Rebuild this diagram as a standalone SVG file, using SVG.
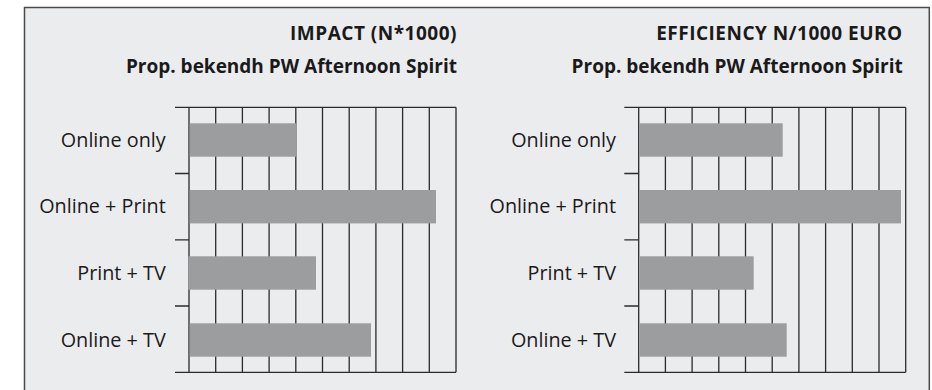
<svg xmlns="http://www.w3.org/2000/svg" width="932" height="390" viewBox="0 0 932 390">
  <style>
    .panel { fill: #EBECEE; stroke: #4A4A4A; stroke-width: 1.5; }
    .title { font-family: "Open Sans", "Liberation Sans", sans-serif; font-weight: bold; font-size: 19px; fill: #1A1A1A; text-anchor: end; }
    .caps { letter-spacing: 0.5px; }
    .label { font-family: "Open Sans", "Liberation Sans", sans-serif; font-size: 19.8px; fill: #1A1A1A; text-anchor: end; }
    .grid { stroke: #2B2B2B; stroke-width: 1.3; fill: none; }
    .bar { fill: #9C9D9F; }
  </style>

  <!-- background panel (open at the bottom) -->
  <path class="panel" d="M24.5 392 V7.5 H929.3 V392" />

  <!-- left chart: impact -->
  <g id="impact-chart">
    <text class="title caps" x="457" y="40">IMPACT (N*1000)</text>
    <text class="title" x="457" y="72.7">Prop. bekendh PW Afternoon Spirit</text>

    <g id="impact-grid" class="grid">
      <path d="M175 107.3 H456 M175 372.3 H456" />
      <path d="M189 107.3 V372.3 M215.7 107.3 V372.3 M242.4 107.3 V372.3 M269.1 107.3 V372.3 M295.8 107.3 V372.3 M322.5 107.3 V372.3 M349.2 107.3 V372.3 M375.9 107.3 V372.3 M402.6 107.3 V372.3 M429.3 107.3 V372.3 M456 107.3 V372.3" />
      <path d="M175 173.5 H189 M175 239.8 H189 M175 306 H189" />
    </g>

    <g id="impact-bars">
      <rect class="bar" x="189.7" y="123.3" width="107" height="33.4" />
      <rect class="bar" x="189.7" y="190" width="246.3" height="33.4" />
      <rect class="bar" x="188.3" y="256.3" width="127.7" height="33.4" />
      <rect class="bar" x="189.7" y="323.3" width="181.3" height="33.4" />
    </g>

    <g id="impact-labels">
      <text class="label" x="165.7" y="147.3">Online only</text>
      <text class="label" x="165.7" y="212.7">Online + Print</text>
      <text class="label" x="165.7" y="280">Print + TV</text>
      <text class="label" x="165.7" y="346.7">Online + TV</text>
    </g>
  </g>

  <!-- right chart: efficiency -->
  <g id="efficiency-chart">
    <text class="title caps" x="902.7" y="40">EFFICIENCY N/1000 EURO</text>
    <text class="title" x="902.7" y="72.7">Prop. bekendh PW Afternoon Spirit</text>

    <g id="efficiency-grid" class="grid">
      <path d="M624.3 107.3 H905.7 M624.3 372.3 H905.7" />
      <path d="M638.7 107.3 V372.3 M665.4 107.3 V372.3 M692.1 107.3 V372.3 M718.8 107.3 V372.3 M745.5 107.3 V372.3 M772.2 107.3 V372.3 M798.9 107.3 V372.3 M825.6 107.3 V372.3 M852.3 107.3 V372.3 M879 107.3 V372.3 M905.7 107.3 V372.3" />
      <path d="M624.3 173.5 H638.7 M624.3 239.8 H638.7 M624.3 306 H638.7" />
    </g>

    <g id="efficiency-bars">
      <rect class="bar" x="639.3" y="123.3" width="143.4" height="33.4" />
      <rect class="bar" x="639.3" y="190" width="261.7" height="33.4" />
      <rect class="bar" x="639.7" y="256.3" width="114" height="33.4" />
      <rect class="bar" x="639.7" y="323.3" width="147" height="33.4" />
    </g>

    <g id="efficiency-labels">
      <text class="label" x="616" y="147.3">Online only</text>
      <text class="label" x="616" y="212.7">Online + Print</text>
      <text class="label" x="616" y="280">Print + TV</text>
      <text class="label" x="616" y="346.7">Online + TV</text>
    </g>
  </g>
</svg>
